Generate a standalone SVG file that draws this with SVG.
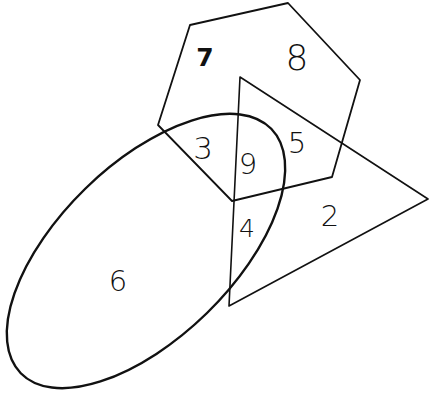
<svg xmlns="http://www.w3.org/2000/svg" width="429" height="399" viewBox="0 0 429 399">
<style>
.s{fill:none;stroke:#111;stroke-linejoin:round;stroke-linecap:round}
.t{font-family:"DejaVu Sans","Liberation Sans",sans-serif;fill:#111;text-anchor:middle}
</style>
<rect width="429" height="399" fill="#fff"/>
<g id="hexagon"><polygon class="s" stroke-width="1.8" points="190,25 288,3 360,80 332,177 232,201 158,125"/></g>
<g id="triangle"><polygon class="s" stroke-width="1.6" points="240,77 428,199 229,306"/></g>
<g id="ellipse"><ellipse class="s" stroke-width="2.4" cx="146" cy="251" rx="175" ry="87" transform="rotate(-44.3 146 251)"/></g>
<g id="labels">
<text class="t" x="205" y="66" style="font-size:25px;font-weight:bold">7</text>
<text class="t" x="297" y="70" style="font-size:36px;font-weight:300">8</text>
<text class="t" x="203" y="159" style="font-size:31px;font-weight:300">3</text>
<text class="t" x="248" y="174" style="font-size:29px;font-weight:300">9</text>
<text class="t" x="297" y="153" style="font-size:29px;font-weight:300">5</text>
<text class="t" x="247" y="237" style="font-size:25px;font-weight:300">4</text>
<text class="t" x="330" y="226" style="font-size:29px;font-weight:300">2</text>
<text class="t" x="118" y="291" style="font-size:29px;font-weight:300">6</text>
</g>
</svg>
